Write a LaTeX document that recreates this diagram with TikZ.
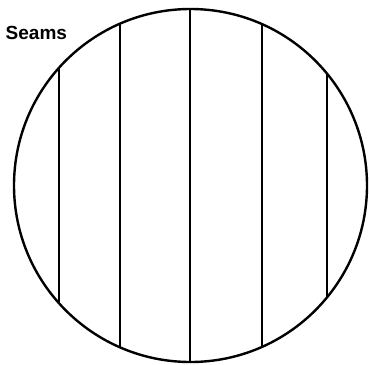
\documentclass[tikz,border=0pt]{standalone}
\usepackage{fontspec}
\setmainfont{Liberation Sans}
\usetikzlibrary{positioning}

\begin{document}
\begin{tikzpicture}[x=1pt,y=-1pt,line width=2.4pt]
\useasboundingbox (0,0) rectangle (369,364);
\coordinate (ball) at (190.5,185.5);
% seams cut off by the ball
\begin{scope}
  \clip (ball) circle[radius=176.5];
  \foreach \x in {59,120,190,262,327}{
    \draw (\x,0)--(\x,364);
  }
\end{scope}
\draw (ball) circle[radius=176.5];
\node[anchor=base west,inner sep=0pt,font=\fontsize{19}{22}\selectfont\bfseries] (seams) at (4.5,39) {Seams};
\end{tikzpicture}
\end{document}
